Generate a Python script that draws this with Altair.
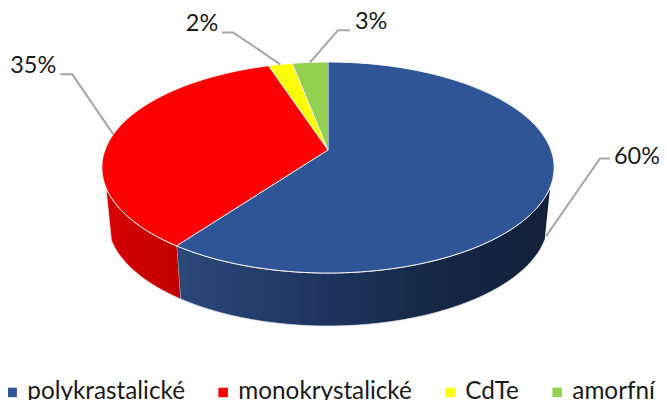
import math
import altair as alt
import pandas as pd

categories = ["polykrastalické", "monokrystalické", "CdTe", "amorfní"]
shares = [60, 35, 2, 3]
colors = ["#2f5597", "#ff0000", "#ffff00", "#92d050"]

# Perspective model of the tilted disc, in page pixels
APEX_X, APEX_Y = 328, 150
RX, RY, TILT = 223, 102.6, 0.166
DEPTH, SHRINK = 53, 0.975
WALL_FROM, WALL_TO = 110, 250  # visible part of the side wall, degrees clockwise from top
FONT = "Lato"


def rim(theta, lower=False):
    t = math.radians(theta)
    u, v = math.sin(t), math.cos(t)
    w = 1 + TILT * v
    x, y = RX * u / w, -RY * v / w
    if lower:
        return APEX_X + SHRINK * x, APEX_Y + y + DEPTH
    return APEX_X + x, APEX_Y + y


def arc(a, b, lower=False):
    n = max(2, int(abs(b - a)) * 2)
    return [rim(a + (b - a) * i / n, lower) for i in range(n + 1)]


# Angular extent of each slice
starts, ends, acc = [], [], 0
for s in shares:
    starts.append(acc * 3.6)
    acc += s
    ends.append(acc * 3.6)

top_rows, wall_rows = [], []
for cat, a, b in zip(categories, starts, ends):
    pts = [(APEX_X, APEX_Y)] + arc(a, b)
    top_rows += [{"slice": cat, "i": i, "x": p[0], "y": p[1]} for i, p in enumerate(pts)]
    lo, hi = max(a, WALL_FROM), min(b, WALL_TO)
    if lo < hi:
        pts = arc(lo, hi) + arc(hi, lo, lower=True)
        wall_rows += [{"slice": cat, "i": i, "x": p[0], "y": p[1]} for i, p in enumerate(pts)]
top_df = pd.DataFrame(top_rows)
wall_df = pd.DataFrame(wall_rows)

# Leader lines start on the rim at each slice's mid angle (the first on the lower rim)
elbows = [(54, -78, 10, 0), (-41, -60, -12, 0), (-47, -32, -11, 0), (28, -32, 12, 0)]
text_off = [(4, -1), (-4, -8), (-4, -8), (5, -8)]
aligns = ["left", "right", "right", "left"]
lead_rows, text_rows = [], []
for k, (cat, a, b) in enumerate(zip(categories, starts, ends)):
    ax, ay = rim((a + b) / 2, lower=(k == 0))
    ex, ey, fx, fy = elbows[k]
    p = [(ax, ay), (ax + ex, ay + ey), (ax + ex + fx, ay + ey + fy)]
    lead_rows += [{"slice": cat, "i": i, "x": q[0], "y": q[1]} for i, q in enumerate(p)]
    text_rows.append({"x": p[2][0] + text_off[k][0], "y": p[2][1] + text_off[k][1],
                      "label": f"{shares[k]}%", "align": aligns[k]})
lead_df = pd.DataFrame(lead_rows)
text_df = pd.DataFrame(text_rows)

X = alt.X("x:Q", axis=None, scale=alt.Scale(domain=[8, 659], nice=False, zero=False))
Y = alt.Y("y:Q", axis=None, scale=alt.Scale(domain=[400, 8], nice=False, zero=False))
O = alt.Order("i:Q")

wall_blue = alt.Chart(wall_df[wall_df["slice"] == categories[0]]).mark_line(
    filled=True, stroke="#dfe3ea", strokeWidth=0.8,
    color=alt.Gradient(
        gradient="linear", x1=0, x2=1, y1=0, y2=0,
        stops=[alt.GradientStop(offset=0, color="#2b4979"),
               alt.GradientStop(offset=0.35, color="#1f3661"),
               alt.GradientStop(offset=0.75, color="#152542"),
               alt.GradientStop(offset=1, color="#13213b")],
    ),
).encode(x=X, y=Y, order=O)

wall_red = alt.Chart(wall_df[wall_df["slice"] == categories[1]]).mark_line(
    filled=True, stroke="#e8e0e0", strokeWidth=0.8,
    color=alt.Gradient(
        gradient="linear", x1=0, x2=1, y1=0, y2=0,
        stops=[alt.GradientStop(offset=0, color="#d90000"),
               alt.GradientStop(offset=1, color="#bf0000")],
    ),
).encode(x=X, y=Y, order=O)

top = alt.Chart(top_df).mark_line(filled=True, stroke="#ffffff", strokeWidth=1).encode(
    x=X, y=Y, order=O,
    color=alt.Color(
        "slice:N",
        scale=alt.Scale(domain=categories, range=colors),
        sort=categories,
        legend=alt.Legend(
            title=None, orient="none", legendX=-8, legendY=372, padding=0,
            direction="horizontal", columns=4, symbolType="square", symbolSize=90,
            symbolStrokeWidth=0, labelFont=FONT, labelFontSize=24.3, labelColor="#1a1a1a",
            labelOffset=3, columnPadding=26, labelLimit=300,
        ),
    ),
)

leaders = alt.Chart(lead_df).mark_line(color="#a6a6a6", strokeWidth=2).encode(
    x=X, y=Y, order=O, detail="slice:N"
)

labels_l = alt.Chart(text_df[text_df["align"] == "left"]).mark_text(
    font=FONT, fontSize=23.5, color="#1a1a1a", baseline="middle", align="left"
).encode(x=X, y=Y, text="label:N")
labels_r = alt.Chart(text_df[text_df["align"] == "right"]).mark_text(
    font=FONT, fontSize=23.5, color="#1a1a1a", baseline="middle", align="right"
).encode(x=X, y=Y, text="label:N")

chart = (
    alt.layer(wall_blue, wall_red, top, leaders, labels_l, labels_r)
    .properties(width=651, height=392, padding=0, autosize=alt.AutoSizeParams(type="none"),
                background="#ffffff")
    .configure_view(stroke=None)
)

chart.save("out.html", embed_options={"renderer": "svg", "actions": False})
